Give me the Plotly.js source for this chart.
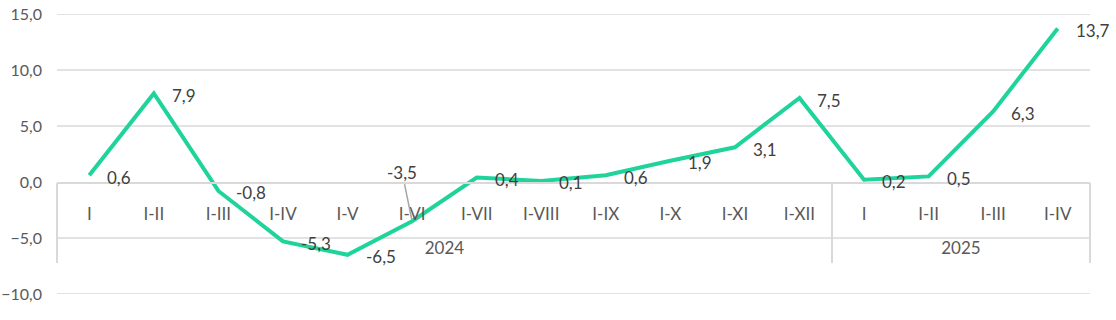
<!DOCTYPE html>
<html>
<head>
<meta charset="utf-8">
<script src="https://cdn.plot.ly/plotly-3.0.1.min.js"></script>
<style>html,body{margin:0;padding:0;background:#fff;}#chart{width:1116px;height:320px;}</style>
</head>
<body>
<div id="chart"></div>
<script>
const years = ['2024','2024','2024','2024','2024','2024','2024','2024','2024','2024','2024','2024','2025','2025','2025','2025'];
const periods = ['I','I-II','I-III','I-IV','I-V','I-VI','I-VII','I-VIII','I-IX','I-X','I-XI','I-XII','I','I-II','I-III','I-IV'];
const values = [0.6, 7.9, -0.8, -5.3, -6.5, -3.5, 0.4, 0.1, 0.6, 1.9, 3.1, 7.5, 0.2, 0.5, 6.3, 13.7];
const yTicks = [-10, -5, 0, 5, 10, 15];
const leaderIndex = 5; // label placed above with leader line

const fontFam = 'Lato, "Open Sans", sans-serif';
const labelSize = 17, tickSize = 17, yTickSize = 16;
const fmt = v => v.toFixed(1).replace('.', ',');

// group structure derived from the years array
const idx = periods.map((_, i) => i);
const groupNames = [...new Set(years)];
const groupCenters = groupNames.map(g => {
  const ii = idx.filter(i => years[i] === g);
  return (ii[0] + ii[ii.length - 1]) / 2;
});
const groupBounds = [-0.5].concat(groupNames.map(g => {
  const ii = idx.filter(i => years[i] === g);
  return ii[ii.length - 1] + 0.5;
}));

const annotations = values.map((v, i) => {
  if (i === leaderIndex) {
    return {x: i, y: v, xref: 'x', yref: 'y', text: fmt(v), showarrow: true,
      arrowhead: 0, arrowwidth: 1.5, arrowcolor: '#a6a6a6', ax: -10, ay: -49, standoff: 2,
      font: {family: fontFam, size: labelSize, color: '#404040'}};
  }
  return {x: i, y: v, xref: 'x', yref: 'y', text: fmt(v), showarrow: false,
    xanchor: 'left', yanchor: 'middle', xshift: 16, yshift: -2,
    font: {family: fontFam, size: labelSize, color: '#404040'}};
});

// horizontal gridlines at the y tick values (0 is drawn by the category axis line)
const shapes = yTicks.filter(t => t !== 0).map(t => ({
  type: 'line', xref: 'paper', yref: 'y', x0: 0, x1: 1, y0: t, y1: t,
  line: {color: '#d9d9d9', width: 1.5}, layer: 'below'
}));

const trace = {
  x: idx, y: values,
  xaxis: 'x', yaxis: 'y',
  type: 'scatter', mode: 'lines',
  line: {color: '#1ed49b', width: 4},
  hoverinfo: 'skip'
};

const xRange = [-0.5, 15.5];
const freeAxis = {
  overlaying: 'x', anchor: 'free', position: 0.4,
  type: 'linear', range: xRange,
  showgrid: false, zeroline: false, automargin: false
};

const layout = {
  width: 1116, height: 320,
  margin: {l: 57, r: 26, t: 14, b: 26, pad: 0},
  paper_bgcolor: '#ffffff', plot_bgcolor: '#ffffff',
  separators: ', ',
  showlegend: false,
  font: {family: fontFam, size: tickSize, color: '#595959'},
  xaxis: {
    type: 'linear', range: xRange,
    showline: false, showgrid: false, zeroline: false,
    showticklabels: false, ticks: '', automargin: false
  },
  // period labels + zero axis line
  xaxis2: Object.assign({}, freeAxis, {
    tickvals: idx, ticktext: periods,
    showline: true, linecolor: '#d9d9d9', linewidth: 1.5,
    ticks: '', ticklabelstandoff: 16,
    tickfont: {family: fontFam, size: tickSize, color: '#595959'}
  }),
  // year group labels
  xaxis3: Object.assign({}, freeAxis, {
    tickvals: groupCenters, ticktext: groupNames,
    showline: false, ticks: '', ticklabelstandoff: 54,
    tickfont: {family: fontFam, size: tickSize, color: '#595959'}
  }),
  // group dividers
  xaxis4: Object.assign({}, freeAxis, {
    tickvals: groupBounds, showticklabels: false,
    showline: false, ticks: 'outside', ticklen: 80,
    tickcolor: '#d9d9d9', tickwidth: 1.5
  }),
  yaxis: {
    range: [-10, 15], tickvals: yTicks,
    tickformat: '.1f',
    showgrid: false, zeroline: false, showline: false,
    ticks: '', ticklabelstandoff: 14,
    tickfont: {family: fontFam, size: yTickSize, color: '#595959'},
    automargin: false
  },
  shapes: shapes,
  annotations: annotations
};

const dummy = ax => ({x: [], y: [], xaxis: ax, yaxis: 'y', type: 'scatter', mode: 'lines', hoverinfo: 'skip'});

Plotly.newPlot('chart', [trace, dummy('x2'), dummy('x3'), dummy('x4')], layout, {displayModeBar: false, staticPlot: true});
</script>
</body>
</html>
